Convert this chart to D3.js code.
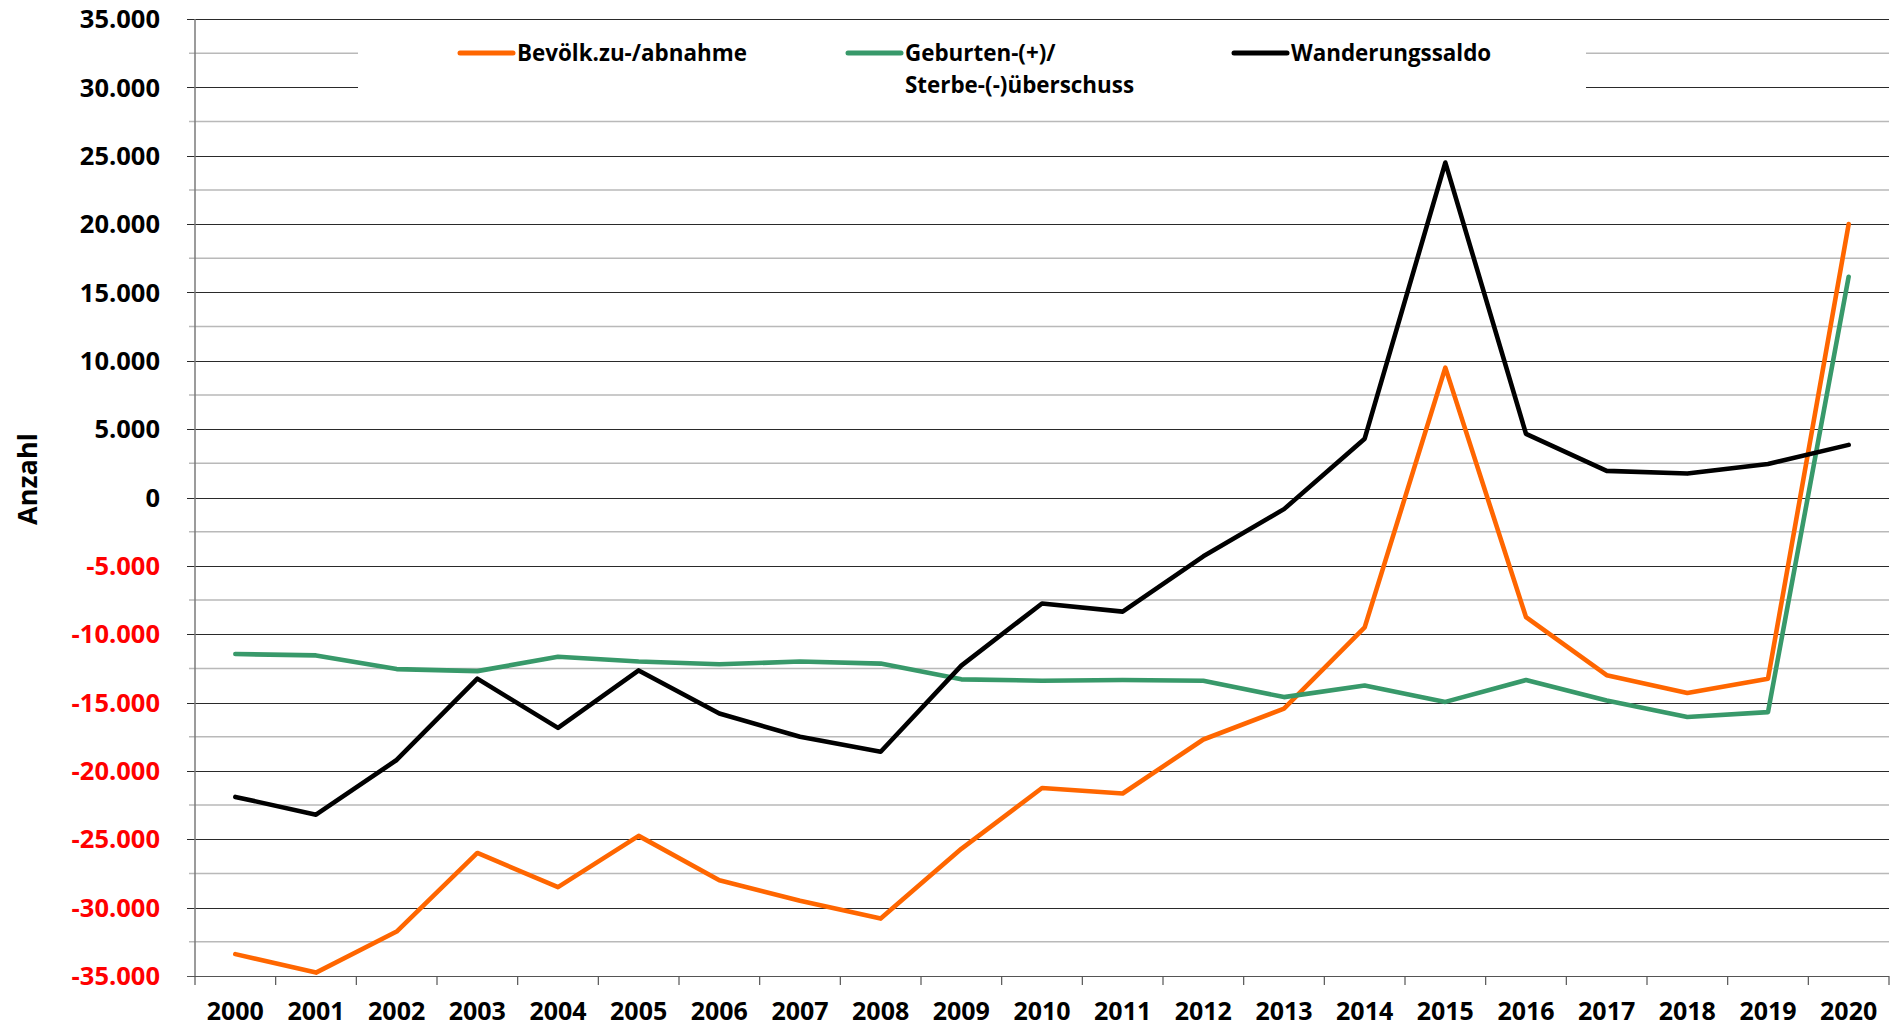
<!DOCTYPE html>
<html>
<head>
<meta charset="utf-8">
<script src="https://cdn.jsdelivr.net/npm/d3@7"></script>
<style>
  body { margin: 0; background: #fff; }
  svg { display: block; }
  text { font-family: "Open Sans", "Noto Sans", sans-serif; font-weight: bold; }
</style>
</head>
<body>
<div id="chart"></div>
<script>
var years = ["2000", "2001", "2002", "2003", "2004", "2005", "2006", "2007", "2008", "2009", "2010",
             "2011", "2012", "2013", "2014", "2015", "2016", "2017", "2018", "2019", "2020"];

var bevoelk = [-33400, -34750, -31750, -26000, -28500, -24750, -28000, -29500, -30800, -25700, -21250,
               -21650, -17700, -15450, -9500, 9500, -8750, -13000, -14300, -13250, 20000];

var geburten = [-11450, -11550, -12550, -12700, -11650, -12000, -12200, -12000, -12150, -13300, -13400,
                -13350, -13400, -14600, -13750, -14950, -13350, -14850, -16050, -15700, 16150];

var wanderung = [-21900, -23200, -19200, -13250, -16850, -12650, -15800, -17500, -18600, -12300, -7750,
                 -8350, -4300, -850, 4300, 24500, 4650, 1950, 1750, 2450, 3850];

var seriesNames = ["Bevölk.zu-/abnahme", "Geburten-(+)/\nSterbe-(-)überschuss", "Wanderungssaldo"];
var seriesColors = ["#ff6600", "#38996a", "#000000"];

var yMajor = d3.range(-35000, 35001, 5000);
var yMinor = d3.range(-32500, 35000, 5000);

var width = 1894, height = 1029;
var plotLeft = 195, plotRight = 1889, plotTop = 19, plotBottom = 976;

var svg = d3.select("#chart").append("svg")
    .attr("width", width)
    .attr("height", height);

var x = d3.scaleBand().domain(years).range([plotLeft, plotRight]);
var y = d3.scaleLinear().domain([-35000, 35000]).range([plotBottom, plotTop]);

var fmt = d3.formatLocale({decimal: ",", thousands: ".", grouping: [3], currency: ["", "€"], minus: "-"}).format(",d");

// minor gridlines
svg.append("g").selectAll("line")
    .data(yMinor)
    .join("line")
    .attr("x1", plotLeft - 6).attr("x2", plotRight)
    .attr("y1", d => y(d)).attr("y2", d => y(d))
    .attr("stroke", "#b9b9b9")
    .attr("stroke-width", 1.5);

// major gridlines
svg.append("g").selectAll("line")
    .data(yMajor)
    .join("line")
    .attr("x1", plotLeft - 8).attr("x2", plotRight)
    .attr("y1", d => Math.round(y(d)) + 0.5).attr("y2", d => Math.round(y(d)) + 0.5)
    .attr("stroke", d => d == -35000 ? "#555" : "#2a2a2a")
    .attr("stroke-width", 1.2);

// y axis line
svg.append("line")
    .attr("x1", plotLeft).attr("x2", plotLeft)
    .attr("y1", plotTop).attr("y2", plotBottom)
    .attr("stroke", "#7a7a7a")
    .attr("stroke-width", 1.5);

// x ticks at band boundaries
svg.append("g").selectAll("line")
    .data(years.concat(["end"]))
    .join("line")
    .attr("x1", (d, i) => x.range()[0] + i * x.step())
    .attr("x2", (d, i) => x.range()[0] + i * x.step())
    .attr("y1", plotBottom).attr("y2", plotBottom + 9)
    .attr("stroke", "#555")
    .attr("stroke-width", 1.2);

// y labels
svg.append("g")
    .attr("text-anchor", "end")
    .selectAll("text")
    .data(yMajor)
    .join("text")
    .attr("x", 160)
    .attr("y", d => y(d))
    .attr("dy", "0.36em")
    .attr("fill", d => d < 0 ? "#ff0000" : "#000")
    .style("font-size", "25.5px")
    .text(d => fmt(d));

// x labels
svg.append("g")
    .attr("text-anchor", "middle")
    .selectAll("text")
    .data(years)
    .join("text")
    .attr("x", d => x(d) + x.bandwidth() / 2)
    .attr("y", 1020)
    .style("font-size", "25px")
    .text(d => d);

svg.append("text")
    .attr("transform", "translate(37,479) rotate(-90)")
    .attr("text-anchor", "middle")
    .style("font-size", "27px")
    .text("Anzahl");

// legend box hides gridlines behind it
svg.append("rect")
    .attr("x", 358).attr("y", 27)
    .attr("width", 1586 - 358).attr("height", 84)
    .attr("fill", "#fff");

var line = d3.line()
    .x((d, i) => x(years[i]) + x.bandwidth() / 2)
    .y(d => y(d));

var allSeries = [bevoelk, geburten, wanderung];

svg.append("g").selectAll("path")
    .data(allSeries)
    .join("path")
    .attr("d", d => line(d))
    .attr("fill", "none")
    .attr("stroke", (d, i) => seriesColors[i])
    .attr("stroke-width", 4.6)
    .attr("stroke-linejoin", "round")
    .attr("stroke-linecap", "round");

// legend
var legendX = [460, 848, 1234];
var legend = svg.append("g").selectAll("g")
    .data(seriesNames)
    .join("g")
    .attr("transform", (d, i) => `translate(${legendX[i]},53)`);

legend.append("line")
    .attr("x1", 0).attr("x2", 53)
    .attr("stroke", (d, i) => seriesColors[i])
    .attr("stroke-width", 5)
    .attr("stroke-linecap", "round");

legend.append("text")
    .attr("x", 57)
    .attr("y", 8)
    .style("font-size", "22.4px")
    .selectAll("tspan")
    .data(d => d.split("\n"))
    .join("tspan")
    .attr("x", 57)
    .attr("dy", (d, i) => i ? 32 : 0)
    .text(d => d);
</script>
</body>
</html>
